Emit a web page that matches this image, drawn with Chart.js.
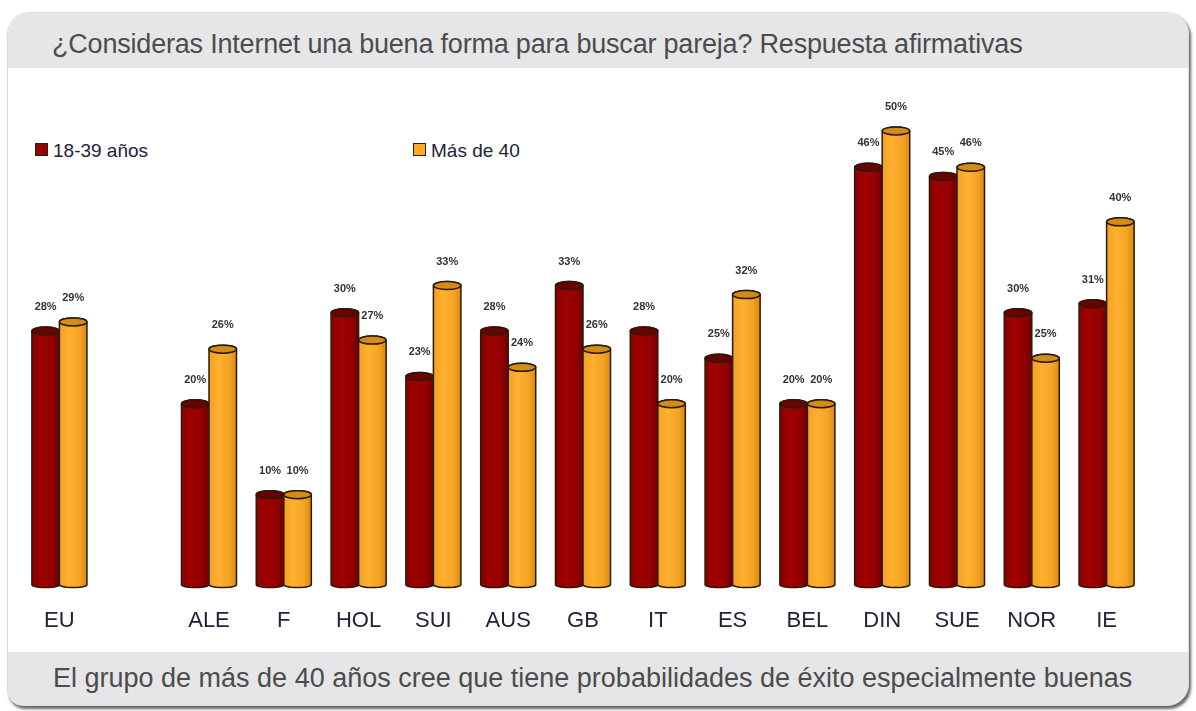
<!DOCTYPE html>
<html>
<head>
<meta charset="utf-8">
<script src="https://cdn.jsdelivr.net/npm/chart.js@4/dist/chart.umd.min.js"></script>
<style>
  html, body { margin: 0; padding: 0; background: #fff; }
  body { width: 1196px; height: 711px; position: relative; overflow: hidden; font-family: "Liberation Sans", Arial, sans-serif; }
  #panel {
    position: absolute; left: 7px; top: 12px; width: 1182px; height: 694px;
    background: #fff; border-radius: 22px 22px 22px 16px; overflow: hidden;
    box-shadow: 2px 3px 3px rgba(0,0,0,0.6);
    border: 1px solid #dcdcdc; box-sizing: border-box;
  }
  #head {
    position: absolute; left: 0; top: 0; right: 0; height: 55px; background: #e6e6e8;
    color: #4c4c4c; font-size: 27px; line-height: 62px; padding-left: 44px;
    letter-spacing: -0.2px; white-space: nowrap;
  }
  #foot {
    position: absolute; left: 0; bottom: 0; right: 0; height: 53px; background: #e6e6e8;
    color: #4c4c4c; font-size: 27px; line-height: 52px; padding-left: 45px;
    letter-spacing: 0; white-space: nowrap;
  }
  #legend { position: absolute; left: 0; top: 0; }
  .item { position: absolute; top: 140px; font-size: 19px; color: #22223a; white-space: nowrap; }
  .item span.box { display: inline-block; width: 11px; height: 11px; border: 1px solid #222; margin-right: 5px; vertical-align: 1px; }
  #chart { position: absolute; left: 0; top: 0; }
</style>
</head>
<body>
<div id="panel">
  <div id="head">¿Consideras Internet una buena forma para buscar pareja? Respuesta afirmativas</div>
  <div id="foot">El grupo de más de 40 años cree que tiene probabilidades de éxito especialmente buenas</div>
</div>
<div id="legend"></div>
<canvas id="chart" width="1196" height="711"></canvas>
<script>
// categories (empty slot keeps the gap after EU)
const categories = ['EU', '', 'ALE', 'F', 'HOL', 'SUI', 'AUS', 'GB', 'IT', 'ES', 'BEL', 'DIN', 'SUE', 'NOR', 'IE'];
// 18-39 años
const youngValues = [28, null, 20, 10, 30, 23, 28, 33, 28, 25, 20, 46, 45, 30, 31];
// Más de 40
const olderValues = [29, null, 26, 10, 27, 33, 24, 26, 20, 32, 20, 50, 46, 25, 40];
const seriesNames = ['18-39 años', 'Más de 40'];
const seriesColors = ['#990000', '#ffaa22'];

// body gradient stops + cap colour for each series
const shades = [
  { stops: ['#8a0000', '#a00000', '#920000', '#700000'], cap: '#6c0000' },
  { stops: ['#f4a020', '#ffb030', '#f4a424', '#d8880e'], cap: '#d48c18' }
];

// legend
const legendX = [35, 413];
const legendEl = document.getElementById('legend');
seriesNames.forEach(function (name, i) {
  const div = document.createElement('div');
  div.className = 'item';
  div.style.left = legendX[i] + 'px';
  div.innerHTML = '<span class="box" style="background:' + seriesColors[i] + '"></span>' + name;
  legendEl.appendChild(div);
});

function drawCylinder(ctx, x, top, base, w, shade) {
  const left = x - w / 2;
  const right = x + w / 2;
  const ry = 4;

  const grad = ctx.createLinearGradient(left, 0, right, 0);
  grad.addColorStop(0, shade.stops[0]);
  grad.addColorStop(0.35, shade.stops[1]);
  grad.addColorStop(0.75, shade.stops[2]);
  grad.addColorStop(1, shade.stops[3]);

  ctx.save();
  ctx.lineWidth = 1.5;
  ctx.strokeStyle = '#2a1a08';

  // body
  ctx.beginPath();
  ctx.moveTo(left, top);
  ctx.lineTo(left, base - 1);
  ctx.ellipse(x, base - 1, w / 2, 3, 0, Math.PI, 0, true);
  ctx.lineTo(right, top);
  ctx.ellipse(x, top, w / 2, ry, 0, 0, Math.PI, true);
  ctx.closePath();
  ctx.fillStyle = grad;
  ctx.fill();
  ctx.stroke();

  // top cap
  ctx.beginPath();
  ctx.ellipse(x, top, w / 2, ry, 0, 0, Math.PI * 2);
  ctx.fillStyle = shade.cap;
  ctx.fill();
  ctx.stroke();
  ctx.restore();
}

const cylinderPlugin = {
  id: 'cylinders',
  beforeDatasetDraw() {
    return false;
  },
  afterDatasetsDraw(chart) {
    const ctx = chart.ctx;
    chart.data.datasets.forEach(function (ds, i) {
      const meta = chart.getDatasetMeta(i);
      meta.data.forEach(function (bar, j) {
        const v = ds.data[j];
        if (v == null) return;
        const p = bar.getProps(['x', 'y', 'base', 'width'], true);
        drawCylinder(ctx, p.x, p.y, p.base, p.width, shades[i]);
      });
    });
    // value labels
    ctx.save();
    ctx.font = 'bold 11px "Liberation Sans", Arial, sans-serif';
    ctx.fillStyle = '#333';
    ctx.textAlign = 'center';
    ctx.textBaseline = 'middle';
    chart.data.datasets.forEach(function (ds, i) {
      const meta = chart.getDatasetMeta(i);
      meta.data.forEach(function (bar, j) {
        const v = ds.data[j];
        if (v == null) return;
        ctx.fillText(v + '%', bar.x, bar.y - 24);
      });
    });
    ctx.restore();
  }
};

const chart = new Chart(document.getElementById('chart'), {
  type: 'bar',
  data: {
    labels: categories,
    datasets: [
      { label: seriesNames[0], data: youngValues, backgroundColor: seriesColors[0] },
      { label: seriesNames[1], data: olderValues, backgroundColor: seriesColors[1] }
    ]
  },
  options: {
    responsive: false,
    animation: false,
    layout: { padding: { left: 22, right: 52, top: 40, bottom: 63 } },
    datasets: { bar: { barPercentage: 1, categoryPercentage: 0.736 } },
    plugins: {
      legend: { display: false },
      tooltip: { enabled: false }
    },
    scales: {
      x: {
        grid: { display: false },
        border: { display: false },
        ticks: {
          padding: 14,
          color: '#22223a',
          font: { size: 22, family: '"Liberation Sans", Arial, sans-serif' }
        }
      },
      y: { display: false, min: 0, max: 60 }
    }
  },
  plugins: [cylinderPlugin]
});
</script>
</body>
</html>
